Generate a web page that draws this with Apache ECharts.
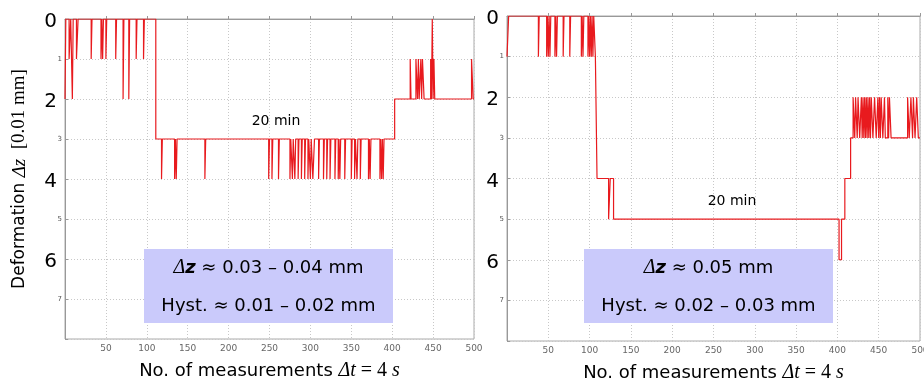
<!DOCTYPE html>
<html>
<head>
<meta charset="utf-8">
<script src="https://cdn.jsdelivr.net/npm/echarts@6/dist/echarts.min.js"></script>
<style>
  html, body { margin: 0; padding: 0; background: #fff; }
  #main { width: 924px; height: 380px; }
</style>
</head>
<body>
<div id="main"></div>
<script>
// deformation level (0.01 mm) as runs: [measurement no., value held from there on]
const leftRuns = [
  [0, 2], [1, 0],
  [5, 1], [7, 0], [9, 2], [10, 0], [14, 1], [16, 0], [32, 1], [33, 0], [44, 1], [45, 0], [46, 1], [47, 0],
  [50, 1], [51, 0], [62, 1], [63, 0], [71, 2], [72, 0], [78, 2], [79, 0], [87, 1], [88, 0], [96, 1], [97, 0],
  [111, 3],
  [118, 4], [119, 3], [134, 4], [135, 3], [136, 4], [137, 3], [171, 4], [172, 3],
  [249, 4], [250, 3], [253, 4], [254, 3], [261, 4], [262, 3], [275, 4], [276, 3], [278, 4], [279, 3],
  [281, 4], [282, 3], [285, 4], [286, 3], [289, 4], [290, 3], [293, 4], [294, 3], [297, 4], [298, 3],
  [300, 4], [301, 3], [303, 4], [305, 3], [310, 4], [311, 3], [316, 4], [317, 3], [320, 4], [321, 3],
  [324, 4], [325, 3], [330, 4], [331, 3], [334, 4], [335, 3], [336, 4], [337, 3], [342, 4], [343, 3],
  [350, 4], [351, 3], [354, 4], [355, 3], [357, 4], [358, 3], [361, 4], [362, 3], [371, 4], [372, 3],
  [373, 4], [374, 3], [385, 4], [386, 3], [387, 4], [388, 3], [389, 4], [390, 3],
  [403, 2],
  [422, 1], [423, 2], [429, 1], [431, 2], [432, 1], [433, 2], [435, 1], [436, 2], [437, 1], [439, 2],
  [447, 1], [448, 2], [449, 0], [450, 2], [451, 1], [452, 2], [497, 1], [499, 2], [500, 2]
];

const rightRuns = [
  [0, 1], [2, 0],
  [38, 1], [39, 0], [48, 1], [49, 0], [50, 1], [51, 0], [52, 1], [53, 0], [58, 1], [59, 0], [60, 1], [61, 0],
  [68, 1], [69, 0], [76, 1], [77, 0], [90, 1], [91, 0], [92, 1], [93, 0], [98, 1], [99, 0], [100, 1], [101, 0],
  [102, 1], [103, 0], [104, 1], [105, 0],
  [107, 1], [109, 4],
  [123, 5], [125, 4], [129, 5],
  [402, 6], [405, 5], [409, 4], [416, 3],
  [419, 2], [421, 3], [422, 2], [424, 3], [425, 2], [427, 3], [429, 2], [430, 3], [431, 2], [432, 3],
  [433, 2], [434, 3], [435, 2], [436, 3], [437, 2], [438, 3], [439, 2], [440, 3], [441, 2], [443, 3],
  [445, 2], [447, 3], [449, 2], [450, 3], [451, 2], [452, 3], [453, 2], [455, 3], [457, 2], [458, 3],
  [461, 2], [462, 3], [463, 2], [465, 3],
  [485, 2], [487, 3], [489, 2], [491, 3], [492, 2], [494, 3], [496, 2], [498, 3], [500, 3]
];

const leftNote = ['{d|Δ}{z|z} ≈ 0.03 – 0.04 mm', 'Hyst. ≈ 0.01 – 0.02 mm'];
const rightNote = ['{d|Δ}{z|z} ≈ 0.05 mm', 'Hyst. ≈ 0.02 – 0.03 mm'];
const holdLabel = '20 min';

let chart = echarts.init(document.getElementById('main'));

const sans = 'DejaVu Sans';
const serif = 'Liberation Serif';

function xAxisFor(i) {
  return {
    type: 'value', gridIndex: i, min: 0, max: 500, interval: 50,
    name: '{a|No. of measurements }{b|Δt}{c| = 4 }{b|s}',
    nameLocation: 'middle', nameGap: 22,
    nameTextStyle: {
      rich: {
        a: { fontFamily: sans, fontSize: 18, color: '#000' },
        b: { fontFamily: serif, fontStyle: 'italic', fontSize: 20, color: '#000' },
        c: { fontFamily: serif, fontSize: 20, color: '#000' }
      }
    },
    axisLine: { show: true, lineStyle: { color: '#999' } },
    axisTick: { show: true, inside: true, length: 3, lineStyle: { color: '#999' } },
    axisLabel: { showMinLabel: false, fontSize: 9, color: '#666', margin: 5, fontFamily: sans },
    splitLine: { show: true, lineStyle: { color: '#c8c8c8', type: [1, 2] } }
  };
}

function yAxisFor(i, withName) {
  let ax = {
    type: 'value', gridIndex: i, min: 0, max: 8, interval: 1, inverse: true,
    axisLine: { show: true, lineStyle: { color: '#999' } },
    axisTick: { show: true, inside: true, length: 3, lineStyle: { color: '#999' } },
    axisLabel: {
      margin: 3,
      formatter: function (v) {
        if (v === 8) return '';
        return v % 2 === 0 ? '{b|' + v + '}' : '{s|' + v + '}';
      },
      rich: {
        b: { fontFamily: sans, fontSize: 20, color: '#000', padding: [6, 5, 0, 0] },
        s: { fontFamily: sans, fontSize: 7, color: '#555' }
      }
    },
    splitLine: { show: true, lineStyle: { color: '#c8c8c8', type: [1, 2] } }
  };
  if (withName) {
    ax.name = '{a|Deformation }{b|Δz}{c|  [0.01 mm]}';
    ax.nameLocation = 'middle';
    ax.nameGap = 36;
    ax.nameTextStyle = {
      rich: {
        a: { fontFamily: sans, fontSize: 17, color: '#000' },
        b: { fontFamily: serif, fontStyle: 'italic', fontSize: 19, color: '#000' },
        c: { fontFamily: serif, fontSize: 19, color: '#000' }
      }
    };
  }
  return ax;
}

function noteText(x, y, text) {
  return {
    type: 'text', x: x, y: y, z: 101,
    style: {
      text: text, align: 'center', verticalAlign: 'middle',
      fontFamily: sans, fontSize: 18, fill: '#000',
      rich: {
        d: { fontFamily: serif, fontStyle: 'italic', fontSize: 20, fill: '#000' },
        z: { fontFamily: sans, fontStyle: 'italic', fontWeight: 'bold', fontSize: 18, fill: '#000' }
      }
    }
  };
}

let option = {
  animation: false,
  backgroundColor: '#fff',
  grid: [
    { left: 65, top: 19, width: 409, height: 320, show: true, borderColor: '#aaa', borderWidth: 1, outerBoundsMode: 'none', containLabel: false },
    { left: 507, top: 16, width: 413, height: 325, show: true, borderColor: '#aaa', borderWidth: 1, outerBoundsMode: 'none', containLabel: false }
  ],
  xAxis: [xAxisFor(0), xAxisFor(1)],
  yAxis: [yAxisFor(0, true), yAxisFor(1, false)],
  series: [
    {
      type: 'line', xAxisIndex: 0, yAxisIndex: 0, step: 'end', showSymbol: false,
      lineStyle: { color: '#e81a1e', width: 1.2 }, data: leftRuns
    },
    {
      type: 'line', xAxisIndex: 1, yAxisIndex: 1, step: 'end', showSymbol: false,
      lineStyle: { color: '#e81a1e', width: 1.2 }, data: rightRuns
    }
  ],
  graphic: [
    { type: 'rect', z: 100, shape: { x: 144, y: 249, width: 249, height: 74 }, style: { fill: '#cacafb' } },
    noteText(268.5, 268, leftNote[0]),
    noteText(268.5, 306, leftNote[1]),
    { type: 'rect', z: 100, shape: { x: 584, y: 249, width: 249, height: 74 }, style: { fill: '#cacafb' } },
    noteText(708.5, 268, rightNote[0]),
    noteText(708.5, 306, rightNote[1]),
    { type: 'text', x: 276, y: 121, z: 101, style: { text: holdLabel, align: 'center', verticalAlign: 'middle', fontFamily: sans, fontSize: 14, fill: '#000' } },
    { type: 'text', x: 732, y: 201, z: 101, style: { text: holdLabel, align: 'center', verticalAlign: 'middle', fontFamily: sans, fontSize: 14, fill: '#000' } }
  ]
};

chart.setOption(option);
</script>
</body>
</html>
